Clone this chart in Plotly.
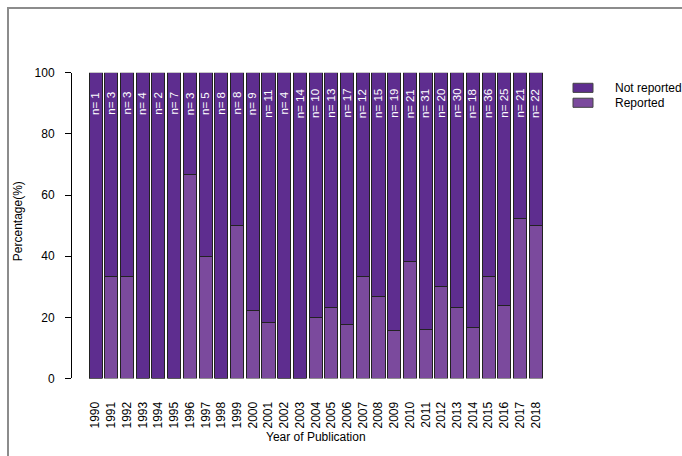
import plotly.graph_objects as go

years = [str(y) for y in range(1990, 2019)]
n_total = [1, 3, 3, 4, 2, 7, 3, 5, 8, 8, 9, 11, 4, 14, 10, 13, 17, 12, 15, 19,
           21, 31, 20, 30, 18, 36, 25, 21, 22]
reported_pct = [0, 33.3, 33.3, 0, 0, 0, 66.7, 40, 0, 50, 22.2, 18.2, 0, 0, 20,
                23.1, 17.6, 33.3, 26.7, 15.8, 38.1, 16.1, 30, 23.3, 16.7, 33.3,
                24, 52.4, 50]
not_reported_pct = [round(100 - v, 1) for v in reported_pct]
y_ticks = [0, 20, 40, 60, 80, 100]
series_names = ["Reported", "Not reported"]

C_REP = "#7b4a9d"
C_NOT = "#5e2d8f"
FONT = "Liberation Sans, Arial, sans-serif"
W, H = 682, 456

fig = go.Figure()
fig.add_trace(go.Bar(x=years, y=reported_pct, name=series_names[0],
                     marker=dict(color=C_REP, line=dict(color="#222", width=1)),
                     showlegend=False))
fig.add_trace(go.Bar(x=years, y=not_reported_pct, name=series_names[1],
                     marker=dict(color=C_NOT, line=dict(color="#222", width=1)),
                     showlegend=False))

# n= labels (category index positions)
for i, n in enumerate(n_total):
    fig.add_annotation(x=i, y=90, xref="x", yref="y", text=f"n= {n}",
                       textangle=-90, showarrow=False,
                       font=dict(color="white", size=11.5, family=FONT),
                       xanchor="center", yanchor="middle")

def px(x):
    return x / W

def py(y):
    return (H - y) / H

# axis titles
fig.add_annotation(x=px(315.5), y=py(444), xref="paper", yref="paper",
                   text="Year of Publication", showarrow=False,
                   font=dict(size=12, color="black", family=FONT),
                   xanchor="center", yanchor="middle")
fig.add_annotation(x=px(18), y=py(221), xref="paper", yref="paper",
                   text="Percentage(%)", textangle=-90, showarrow=False,
                   font=dict(size=12, color="black", family=FONT),
                   xanchor="center", yanchor="middle")

# manual legend
leg = [(series_names[1], C_NOT, 83.4), (series_names[0], C_REP, 98.8)]
for name, col, yc in leg:
    fig.add_shape(type="rect", xref="paper", yref="paper",
                  x0=px(573), x1=px(593), y0=py(yc + 4.7), y1=py(yc - 4.7),
                  fillcolor=col, line=dict(color="#444", width=1))
    fig.add_annotation(x=px(613), y=py(yc), xref="paper", yref="paper",
                       text=name, showarrow=False, xanchor="left",
                       yanchor="middle",
                       font=dict(size=12, color="black", family=FONT))

# frame
fig.add_shape(type="rect", xref="paper", yref="paper",
              x0=px(8), x1=1.05, y0=-0.05, y1=py(1),
              line=dict(color="#8c8c8c", width=2), fillcolor="rgba(0,0,0,0)")

fig.update_layout(
    width=W, height=H,
    margin=dict(l=0, r=0, t=0, b=0),
    paper_bgcolor="white", plot_bgcolor="white",
    barmode="stack", bargap=0.167,
    font=dict(family=FONT, size=12, color="black"),
    xaxis=dict(type="category", domain=[87.7 / W, 543.6 / W],
               range=[-0.5, 28.5],
               showgrid=False, showline=False, ticks="", tickangle=-90,
               tickfont=dict(size=12, color="black", family=FONT),
               ticklabelstandoff=20, zeroline=False),
    yaxis=dict(domain=[py(383.2), py(67.9)], range=[0, 100], anchor="free",
               position=71 / W, tickvals=y_ticks, ticks="outside", ticklen=6,
               tickcolor="black", showline=True, linecolor="black",
               linewidth=1, showgrid=False, zeroline=False,
               tickfont=dict(size=12, color="black", family=FONT),
               ticklabelstandoff=8),
)

post = (
    "var d=document.getElementById('{plot_id}');"
    "d.style.position='fixed';d.style.top='0px';d.style.left='0px';"
    "document.body.style.margin='0';document.body.style.padding='0';"
    "document.body.style.height='456px';document.body.style.overflow='hidden';"
    "document.documentElement.style.overflow='hidden';"
    "document.documentElement.style.height='456px';"
)

fig.write_html("out.html", config={"displayModeBar": False}, post_script=post)
